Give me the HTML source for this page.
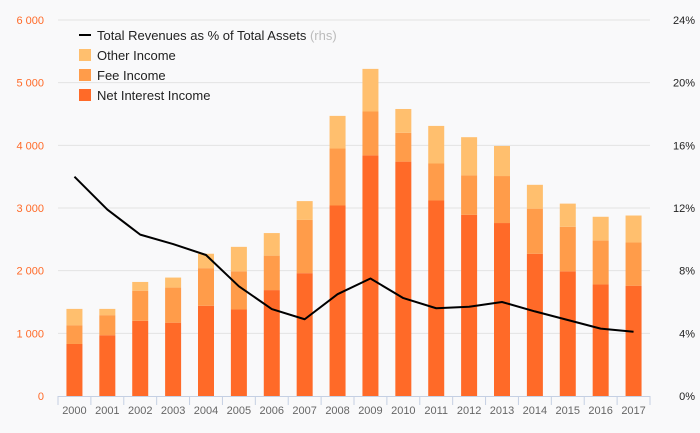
<!DOCTYPE html>
<html><head><meta charset="utf-8"><style>
body{margin:0;background:#f9f9fa;font-family:"Liberation Sans",sans-serif;}
</style></head><body>
<svg id="c" width="700" height="433" style="display:block">
<g id="grid"></g><g id="bars"></g><g id="line"></g><g id="axes"></g>
<g font-size="13" fill="#222">
<line x1="79" y1="35" x2="91" y2="35" stroke="#000" stroke-width="2"/>
<text x="97" y="40">Total Revenues as % of Total Assets <tspan fill="#bbb">(rhs)</tspan></text>
<rect x="79" y="49" width="12" height="12" fill="#ffbf6e"/>
<text x="97" y="60">Other Income</text>
<rect x="79" y="69" width="12" height="12" fill="#ff9c4a"/>
<text x="97" y="80">Fee Income</text>
<rect x="79" y="89" width="12" height="12" fill="#ff6a28"/>
<text x="97" y="100">Net Interest Income</text>
</g>
</svg>
<script>
const years=[2000,2001,2002,2003,2004,2005,2006,2007,2008,2009,2010,2011,2012,2013,2014,2015,2016,2017];
const netInterest=[830,970,1200,1170,1440,1380,1690,1960,3040,3840,3740,3120,2890,2760,2270,1990,1780,1760];
const feeIncome=[300,320,480,560,600,610,550,850,910,700,460,590,630,750,720,710,700,690];
const otherIncome=[260,100,140,160,230,390,360,300,520,680,380,600,610,480,380,370,380,430];
const ratioPct=[14.0,11.9,10.3,9.7,9.0,7.0,5.55,4.9,6.5,7.5,6.25,5.6,5.7,6.0,5.4,4.85,4.3,4.1];
const leftTicks=[0,1000,2000,3000,4000,5000,6000];
const leftTickLabels=["0","1 000","2 000","3 000","4 000","5 000","6 000"];
const rightTicks=[0,4,8,12,16,20,24];
const rightTickLabels=["0%","4%","8%","12%","16%","20%","24%"];
const NS="http://www.w3.org/2000/svg";
const X0=58,X1=650,Y0=396,Y1=20;
const band=(X1-X0)/years.length;
const xc=i=>X0+band*(i+0.5);
const yL=v=>Y0-(v/6000)*(Y0-Y1);
const yR=v=>Y0-(v/24)*(Y0-Y1);
function mk(tag,attrs,parent){const e=document.createElementNS(NS,tag);for(const k in attrs)e.setAttribute(k,attrs[k]);document.getElementById(parent).appendChild(e);return e;}
leftTicks.forEach((t,i)=>{
 if(t>0){const g=mk('line',{x1:X0,x2:X1,y1:yL(t),y2:yL(t),stroke:'#e3e3e3'},'grid');
 
 }
 const l=mk('text',{x:44,y:yL(t)+4,'text-anchor':'end','font-size':'11',fill:'#ff6a28'},'axes');l.textContent=leftTickLabels[i];
 
 
});
rightTicks.forEach((t,i)=>{
 const l=mk('text',{x:695,y:yR(t)+4,'text-anchor':'end','font-size':'11',fill:'#222'},'axes');l.textContent=rightTickLabels[i];
 
 
});
const ax=mk('line',{x1:X0,x2:X1,y1:Y0+0.5,y2:Y0+0.5,stroke:'#c5d0e3'},'axes');


for(let i=0;i<=years.length;i++){const tk=mk('line',{x1:X0+band*i,x2:X0+band*i,y1:Y0,y2:Y0+9,stroke:'#c5d0e3'},'axes');
 
 }
const bw=16;
years.forEach((yr,i)=>{
 const a=netInterest[i],b=feeIncome[i],c=otherIncome[i];
 const segs=[[0,a,'#ff6a28','bar-net-interest'],[a,a+b,'#ff9c4a','bar-fee'],[a+b,a+b+c,'#ffbf6e','bar-other']];
 segs.forEach(s=>{const r=mk('rect',{x:xc(i)-bw/2,y:yL(s[1]),width:bw,height:yL(s[0])-yL(s[1]),fill:s[2]},'bars');
  
  });
 const l=mk('text',{x:xc(i),y:414,'text-anchor':'middle','font-size':'11',fill:'#666'},'axes');l.textContent=yr;
 
 
});
const p=mk('polyline',{points:ratioPct.map((v,i)=>xc(i)+','+yR(v)).join(' '),fill:'none',stroke:'#000','stroke-width':2,'stroke-linejoin':'round'},'line');


</script>
</body></html>
